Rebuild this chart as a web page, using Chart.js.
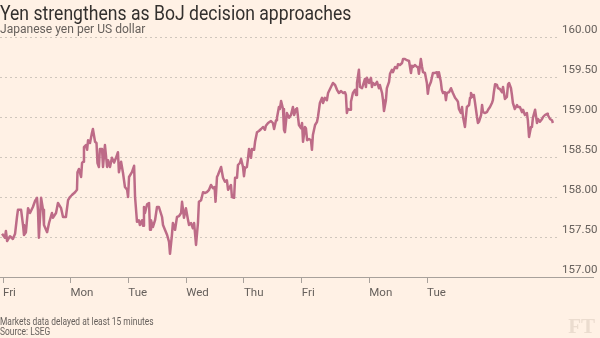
<!DOCTYPE html>
<html>
<head>
<meta charset="utf-8">
<script src="https://cdn.jsdelivr.net/npm/chart.js@4/dist/chart.umd.min.js"></script>
<style>
  body { margin: 0; background: #fff1e5; }
  #wrap { position: relative; width: 600px; height: 338px; overflow: hidden; background: #fff1e5; }
  #chart { position: absolute; left: 0; top: 0; }
  .title { position: absolute; left: 0; top: 1px; font: 400 20px Roboto, sans-serif; color: #33302e; white-space: nowrap; transform: scaleX(0.88); transform-origin: 0 0; }
  .subtitle { position: absolute; left: 0; top: 21px; font: 400 12.5px Roboto, sans-serif; color: #66605c; white-space: nowrap; transform: scaleX(0.965); transform-origin: 0 0; }
  .note { position: absolute; left: 0; font: 400 10.5px Roboto, sans-serif; color: #66605c; white-space: nowrap; transform: scaleX(0.8); transform-origin: 0 0; }
  .ft { position: absolute; right: 5px; top: 314px; font: 700 21px "Liberation Serif", "DejaVu Serif", serif; color: #ebdccf; }
</style>
</head>
<body>
<div id="wrap">
  <canvas id="chart" width="600" height="338"></canvas>
  <div class="title">Yen strengthens as BoJ decision approaches</div>
  <div class="subtitle">Japanese yen per US dollar</div>
  <div class="note" style="top:315px">Markets data delayed at least 15 minutes</div>
  <div class="note" style="top:325px">Source: LSEG</div>
  <div class="ft">FT</div>
</div>
<script>
// hours since the first Friday tick (weekend squeezed out)
const hours = [
  -0.4, 0.8, 1.2, 1.7, 2.9, 4.1, 5.0, 5.8, 6.2, 7.5, 8.3, 8.7, 9.5, 10.4, 11.2, 12.4, 13.3, 14.1, 14.5, 14.9,
  15.8, 16.6, 17.0, 18.3, 19.1, 20.3, 20.7, 22.0, 22.8, 24.1, 24.9, 26.1, 27.0, 27.8, 28.6, 29.9, 30.7, 30.9, 31.5, 32.4,
  32.8, 33.2, 33.6, 34.4, 34.9, 35.3, 36.1, 36.9, 37.3, 38.2, 38.8, 39.2, 39.8, 40.2, 41.1, 41.5, 42.3, 43.2, 43.6, 44.4,
  45.2, 46.1, 46.9, 47.7, 48.1, 49.0, 49.8, 50.6, 51.5, 51.9, 52.3, 53.5, 54.4, 54.8, 55.6, 56.4, 56.8, 57.7, 58.1, 58.5,
  58.9, 59.8, 60.6, 61.0, 61.4, 62.2, 63.1, 63.9, 64.7, 66.0, 66.4, 67.2, 68.1, 68.9, 69.3, 70.1, 70.5, 71.4, 72.2, 73.0,
  73.9, 74.3, 75.1, 75.9, 76.8, 77.2, 78.0, 78.8, 79.3, 80.1, 80.9, 81.3, 82.2, 83.0, 83.8, 84.6, 85.5, 86.3, 87.1, 87.8,
  88.2, 88.8, 89.2, 90.5, 91.3, 92.1, 92.9, 93.4, 94.6, 95.0, 95.9, 96.3, 97.1, 97.5, 98.3, 98.8, 99.6, 100.0, 100.4, 101.2,
  101.7, 102.1, 102.9, 103.3, 104.2, 104.6, 105.4, 106.2, 107.1, 107.9, 108.7, 109.1, 110.0, 111.2, 112.0, 112.5, 113.3, 113.7, 114.5, 114.9,
  115.4, 116.2, 116.6, 117.0, 117.8, 118.7, 119.5, 120.3, 120.8, 121.6, 122.0, 122.8, 123.7, 124.1, 124.5, 125.3, 125.7, 126.2, 127.0, 127.8,
  128.2, 128.6, 129.5, 130.3, 130.7, 131.5, 132.4, 132.8, 133.6, 134.4, 134.9, 135.7, 136.5, 136.9, 137.8, 138.6, 139.4, 140.3, 141.1, 141.9,
  142.3, 142.7, 143.1, 144.0, 144.4, 145.2, 146.1, 146.5, 146.9, 147.7, 148.1, 149.0, 149.4, 150.2, 150.6, 151.0, 151.9, 152.7, 153.1, 153.5,
  154.4, 155.2, 156.0, 156.4, 157.3, 157.7, 158.1, 158.9, 159.3, 160.2, 160.6, 161.4, 161.8, 162.7, 163.5, 163.9, 164.7, 165.6, 166.0, 166.8,
  167.6, 168.5, 169.3, 169.7, 170.1, 171.0, 171.8, 172.2, 172.6, 173.4, 173.9, 174.3, 175.1, 175.9, 176.3, 176.7, 177.6, 178.4, 179.2, 180.1,
  180.5, 180.9, 181.7, 182.1, 182.6, 183.4, 183.8, 184.2, 185.1, 185.9, 186.7, 187.6, 188.4, 188.8, 189.2, 190.0, 190.5, 190.9, 191.7, 192.1,
  192.5, 193.4, 193.8, 194.2, 195.0, 195.4, 195.9, 196.7, 197.1, 197.5, 198.4, 198.8, 199.2, 200.0, 200.8, 201.3, 202.1, 202.9, 203.3, 203.7,
  204.2, 205.0, 205.4, 206.2, 207.1, 207.5, 208.3, 209.1, 209.6, 210.0, 210.8, 211.2, 211.6, 212.4, 213.3, 213.7, 214.5, 215.4, 215.8, 216.6,
  217.4, 217.8, 218.3, 219.1, 219.5, 219.9, 220.8, 221.6, 222.0, 222.8, 223.7, 224.1, 224.9, 225.8, 226.1, 227.0, 227.8, 228.2
];
const yen = [
  157.54, 157.49, 157.575, 157.45, 157.51, 157.475, 157.54, 157.75, 157.84, 157.84, 157.65, 157.525, 157.56, 157.86, 157.80, 157.875, 157.95, 157.99, 157.84, 157.49,
  157.99, 157.84, 157.65, 157.56, 157.675, 157.80, 157.74, 157.80, 157.925, 157.86, 157.75, 157.75, 157.96, 158.00, 158.025, 158.06, 158.09, 158.31, 158.35, 158.25,
  158.425, 158.44, 158.625, 158.65, 158.59, 158.71, 158.675, 158.80, 158.85, 158.69, 158.675, 158.425, 158.375, 158.60, 158.60, 158.375, 158.65, 158.375, 158.46, 158.375,
  158.49, 158.43, 158.49, 158.56, 158.31, 158.44, 158.30, 158.125, 158.09, 158.00, 158.25, 158.31, 158.39, 158.00, 157.69, 157.71, 157.65, 157.71, 157.64, 157.875,
  157.80, 157.91, 157.925, 157.59, 157.71, 157.625, 157.71, 157.875, 157.875, 157.75, 157.65, 157.59, 157.525, 157.44, 157.29, 157.525, 157.675, 157.59, 157.75, 157.76,
  157.80, 157.94, 157.74, 157.86, 157.71, 157.65, 157.675, 157.61, 157.675, 157.40, 157.675, 157.94, 157.96, 158.06, 158.05, 158.06, 158.09, 158.15, 158.11, 158.125,
  157.94, 158.25, 158.275, 158.375, 158.24, 158.19, 158.21, 158.09, 158.15, 158.00, 157.99, 158.24, 158.24, 158.40, 158.425, 158.475, 158.375, 158.26, 158.36, 158.375,
  158.49, 158.60, 158.49, 158.60, 158.59, 158.69, 158.81, 158.825, 158.85, 158.875, 158.84, 158.89, 158.925, 158.95, 158.925, 158.85, 158.96, 158.99, 159.125, 159.10,
  159.20, 159.10, 158.84, 158.81, 159.05, 158.99, 159.025, 159.125, 159.025, 159.10, 159.11, 158.90, 158.86, 158.925, 158.69, 158.875, 158.86, 158.71, 158.725, 158.71,
  158.59, 158.775, 158.90, 158.94, 159.00, 159.175, 159.24, 159.175, 159.24, 159.21, 159.30, 159.35, 159.40, 159.425, 159.40, 159.34, 159.30, 159.325, 159.30, 159.31,
  159.275, 159.05, 159.10, 159.09, 159.19, 159.30, 159.34, 159.275, 159.425, 159.59, 159.375, 159.36, 159.40, 159.475, 159.375, 159.49, 159.425, 159.49, 159.375, 159.425,
  159.40, 159.44, 159.36, 159.40, 159.30, 159.21, 159.075, 159.21, 159.36, 159.44, 159.54, 159.59, 159.56, 159.625, 159.61, 159.66, 159.65, 159.675, 159.725, 159.725,
  159.71, 159.70, 159.55, 159.64, 159.625, 159.65, 159.625, 159.625, 159.54, 159.725, 159.625, 159.56, 159.55, 159.425, 159.29, 159.375, 159.44, 159.55, 159.55, 159.56,
  159.50, 159.56, 159.44, 159.34, 159.30, 159.31, 159.21, 159.30, 159.31, 159.36, 159.30, 159.24, 159.21, 159.19, 159.10, 159.05, 159.125, 159.00, 158.875, 159.00,
  159.125, 159.15, 159.24, 159.30, 159.25, 159.275, 159.175, 159.00, 158.925, 158.94, 159.025, 159.15, 159.06, 159.05, 159.06, 159.09, 159.125, 159.175, 159.21, 159.31,
  159.41, 159.40, 159.36, 159.35, 159.31, 159.375, 159.225, 159.25, 159.41, 159.425, 159.36, 159.275, 159.175, 159.10, 159.15, 159.125, 159.125, 159.06, 159.09, 159.025,
  159.05, 158.96, 158.75, 158.875, 158.875, 158.99, 159.09, 158.925, 158.975, 158.94, 158.975, 159.00, 159.025, 159.04, 159.025, 158.975, 158.96, 158.925
];
const dayHours = [0, 28, 52, 76, 100, 124, 152, 176];
const dayLabels = ["Fri", "Mon", "Tue", "Wed", "Thu", "Fri", "Mon", "Tue"];
const yTicks = [157, 157.5, 158, 158.5, 159, 159.5, 160];

const lineColor = "#bd6b87";
const inkGrey = "#66605c";

// solid baseline along 157.00, running under the right-hand label
const baseline = {
  id: "baseline",
  afterDatasetsDraw(chart) {
    const c = chart.ctx;
    const y = Math.round(chart.scales.y.getPixelForValue(yTicks[0])) + 0.5;
    c.save();
    c.strokeStyle = "#a8a19b";
    c.lineWidth = 1;
    c.beginPath();
    c.moveTo(0, y);
    c.lineTo(594, y);
    c.stroke();
    c.restore();
  }
};

new Chart(document.getElementById("chart"), {
  type: "line",
  data: {
    datasets: [{
      data: hours.map((h, i) => ({ x: h, y: yen[i] })),
      borderColor: lineColor,
      borderWidth: 2.5,
      borderJoinStyle: "round",
      pointRadius: 0,
      tension: 0
    }]
  },
  options: {
    responsive: false,
    animation: false,
    devicePixelRatio: 1,
    layout: { padding: { top: 37, right: 3, bottom: 35, left: 0 } },
    plugins: { legend: { display: false }, tooltip: { enabled: false } },
    scales: {
      x: {
        type: "linear",
        min: -1.25,
        max: 229.9,
        afterBuildTicks: s => { s.ticks = dayHours.map(v => ({ value: v })); },
        afterFit: s => { s.height = 26; },
        grid: { drawOnChartArea: false, drawTicks: true, tickLength: 6, color: "#a8a19b" },
        border: { display: false },
        ticks: {
          autoSkip: false,
          maxRotation: 0,
          align: "start",
          padding: 3,
          color: inkGrey,
          font: { family: "Roboto", size: 11.5 },
          callback: (v, i) => dayLabels[i]
        }
      },
      y: {
        position: "right",
        min: 157,
        max: 160,
        afterBuildTicks: s => { s.ticks = yTicks.map(v => ({ value: v })); },
        afterFit: s => { s.width = 40; },
        grid: { drawTicks: false, color: "#cfc6bc" },
        border: { display: false, dash: [2, 3] },
        ticks: {
          crossAlign: "near",
          padding: 5,
          labelOffset: -7,
          color: inkGrey,
          font: { family: "Roboto", size: 11.5 },
          callback: v => v.toFixed(2)
        }
      }
    }
  },
  plugins: [baseline]
});
</script>
</body>
</html>
